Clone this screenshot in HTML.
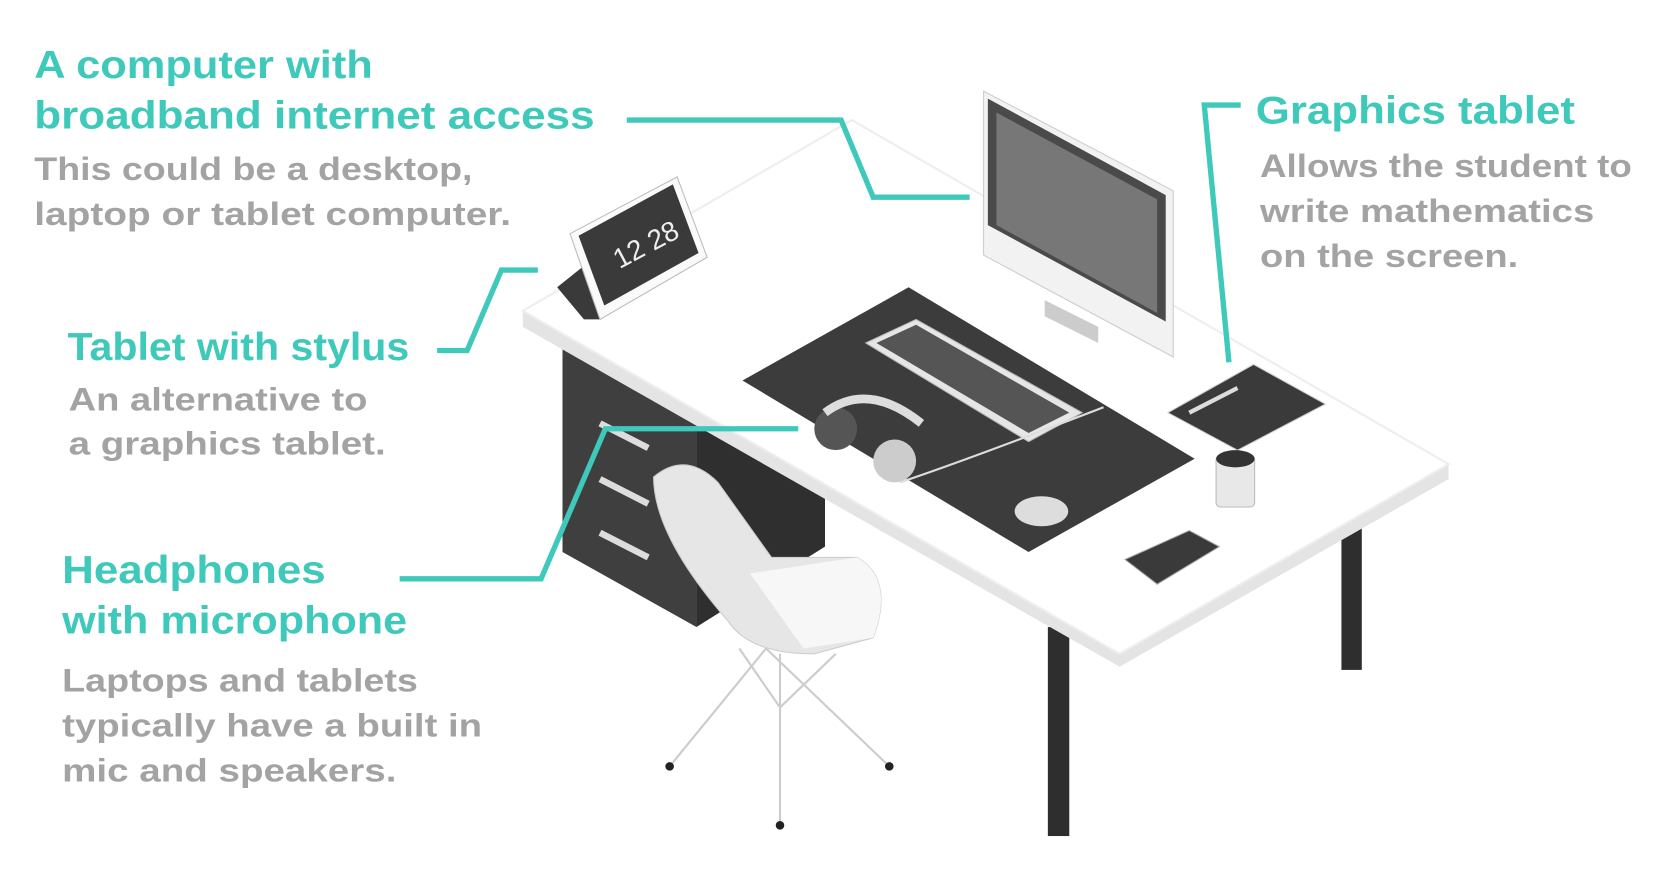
<!DOCTYPE html>
<html><head><meta charset="utf-8"><style>
html,body{margin:0;padding:0;background:#fff;width:1680px;height:880px;overflow:hidden}
svg{display:block}
.t{font-family:"Liberation Sans",sans-serif;font-weight:bold;fill:#3fc9bb;font-size:36px}
.g{font-family:"Liberation Sans",sans-serif;font-weight:bold;fill:#a3a3a3;font-size:30px}
</style></head><body>
<svg width="1680" height="880" viewBox="0 0 1568 821" preserveAspectRatio="none">
<rect width="1568" height="821" fill="#fff"/>
<rect x="978" y="585" width="20" height="195" fill="#2e2e2e"/>
<rect x="1252" y="492" width="19" height="133" fill="#2e2e2e"/>
<polygon points="525,318 650,385 650,585 525,515" fill="#3f3f3f"/>
<polygon points="650,385 770,330 770,510 650,585" fill="#2f2f2f"/>
<g stroke="#ddd" stroke-width="6" fill="none">
<line x1="560" y1="395" x2="605" y2="418"/><line x1="560" y1="447" x2="605" y2="470"/><line x1="560" y1="497" x2="605" y2="520"/>
</g>
<polygon points="488,290 488,305 1045,622 1352,447 1352,433" fill="#e4e4e4"/>
<polygon points="488,290 795,112 1352,433 1045,610" fill="#fff" stroke="#eee" stroke-width="2"/>
<polygon points="693,355 848,268 1115,428 960,515" fill="#3c3c3c"/>
<polygon points="808,320 855,298 1010,385 960,412" fill="#e6e6e6" stroke="#bbb"/>
<polygon points="818,320 855,303 998,385 960,404" fill="#555"/>
<circle cx="780" cy="400" r="20" fill="#555"/>
<circle cx="835" cy="430" r="20" fill="#ccc"/>
<path d="M770,385 Q810,355 860,395" stroke="#ddd" stroke-width="8" fill="none"/>
<path d="M840,450 Q900,430 1030,380" stroke="#ddd" stroke-width="2" fill="none"/>
<ellipse cx="972" cy="477" rx="25" ry="14" fill="#ddd"/>
<polygon points="975,280 1025,305 1025,320 975,295" fill="#ccc"/>
<polygon points="918,85 1095,178 1095,333 918,238" fill="#f2f2f2" stroke="#ccc"/>
<polygon points="922,92 1088,182 1088,300 922,210" fill="#4a4a4a"/>
<polygon points="930,105 1080,186 1080,292 930,210" fill="#777"/>
<polygon points="520,268 555,240 560,298 545,298" fill="#3a3a3a"/>
<polygon points="532,218 632,165 660,240 560,298" fill="#fafafa" stroke="#bbb"/>
<polygon points="540,220 628,172 652,236 564,285" fill="#3a3a3a"/>
<text x="565" y="242" font-family="Liberation Sans,sans-serif" font-size="26" fill="#eee" transform="rotate(-28 590 220)">12 28</text>
<polygon points="1090,385 1170,340 1237,377 1155,420" fill="#3a3a3a" stroke="#ccc"/>
<line x1="1110" y1="385" x2="1155" y2="362" stroke="#ddd" stroke-width="4"/>
<rect x="1135" y="425" width="36" height="48" rx="4" fill="#e8e8e8" stroke="#bbb"/>
<ellipse cx="1153" cy="428" rx="18" ry="8" fill="#333"/>
<polygon points="1050,522 1110,495 1138,510 1080,545" fill="#3a3a3a" stroke="#aaa"/>
<g stroke="#ccc" stroke-width="2" fill="none">
<line x1="715" y1="605" x2="625" y2="715"/><line x1="715" y1="605" x2="830" y2="715"/>
<line x1="728" y1="610" x2="728" y2="770"/><line x1="690" y1="605" x2="728" y2="660"/><line x1="780" y1="610" x2="728" y2="660"/>
</g>
<circle cx="625" cy="715" r="4" fill="#222"/><circle cx="830" cy="715" r="4" fill="#222"/><circle cx="728" cy="770" r="4" fill="#222"/>
<path d="M610,445 Q640,420 670,450 L720,520 L800,520 Q835,540 815,595 L760,610 Q700,610 680,580 Q610,500 610,445 Z" fill="#e6e6e6" stroke="#ccc"/>
<path d="M700,535 L800,520 Q835,540 815,595 L750,605 Z" fill="#f7f7f7"/>
<g stroke="#3fc9bb" stroke-width="5" fill="none">
<polyline points="585,112 785,112 815,184 905,184"/>
<polyline points="1158,98 1124,98 1147,338"/>
<polyline points="408,327 436,327 468,252 502,252"/>
<polyline points="373,540 505,540 565,400 745,400"/>
</g>
<text class="t" x="32" y="73" textLength="316" lengthAdjust="spacingAndGlyphs">A computer with</text>
<text class="t" x="32" y="120" textLength="523" lengthAdjust="spacingAndGlyphs">broadband internet access</text>
<text class="g" x="32" y="168" textLength="409" lengthAdjust="spacingAndGlyphs">This could be a desktop,</text>
<text class="g" x="32" y="210" textLength="445" lengthAdjust="spacingAndGlyphs">laptop or tablet computer.</text>
<text class="t" x="63" y="336" textLength="319" lengthAdjust="spacingAndGlyphs">Tablet with stylus</text>
<text class="g" x="64" y="383" textLength="279" lengthAdjust="spacingAndGlyphs">An alternative to</text>
<text class="g" x="64" y="424" textLength="296" lengthAdjust="spacingAndGlyphs">a graphics tablet.</text>
<text class="t" x="58" y="544" textLength="246" lengthAdjust="spacingAndGlyphs">Headphones</text>
<text class="t" x="58" y="591" textLength="322" lengthAdjust="spacingAndGlyphs">with microphone</text>
<text class="g" x="58" y="645" textLength="332" lengthAdjust="spacingAndGlyphs">Laptops and tablets</text>
<text class="g" x="58" y="687" textLength="392" lengthAdjust="spacingAndGlyphs">typically have a built in</text>
<text class="g" x="58" y="729" textLength="312" lengthAdjust="spacingAndGlyphs">mic and speakers.</text>
<text class="t" x="1172" y="115" textLength="298" lengthAdjust="spacingAndGlyphs">Graphics tablet</text>
<text class="g" x="1176" y="165" textLength="347" lengthAdjust="spacingAndGlyphs">Allows the student to</text>
<text class="g" x="1176" y="207" textLength="312" lengthAdjust="spacingAndGlyphs">write mathematics</text>
<text class="g" x="1176" y="249" textLength="241" lengthAdjust="spacingAndGlyphs">on the screen.</text>
</svg>
</body></html>
